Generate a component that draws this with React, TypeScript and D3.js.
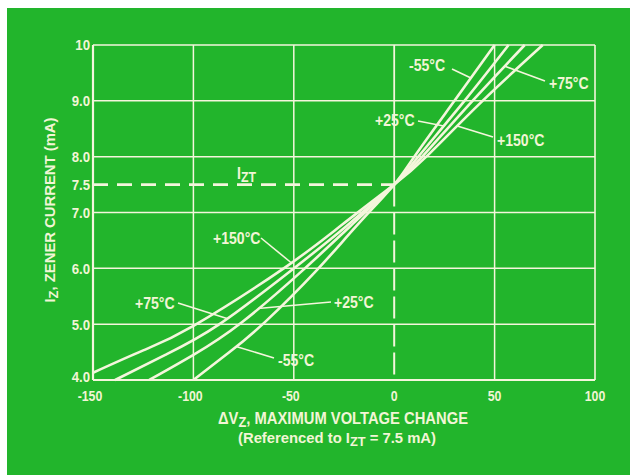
import React from "react";
import * as d3 from "d3";

// Data: ΔVz (x) vs Iz in mA (y)
const xTicks = [-150, -100, -50, 0, 50, 100];
const yTicks = [4.0, 5.0, 6.0, 7.0, 7.5, 8.0, 9.0, 10];
const yTickLabels = ["4.0", "5.0", "6.0", "7.0", "7.5", "8.0", "9.0", "10"];
const xGrid = [-100, -50, 50];
const yGrid = [5, 6, 7, 8, 9];

const seriesNames = ["-55°C", "+25°C", "+75°C", "+150°C"];
const curveM55: [number, number][] = [
  [-100, 4.0], [-82, 4.5], [-64, 5.05], [-39, 5.95], [-19, 6.75], [0, 7.5], [10, 8.0], [30, 9.0], [50, 10.0],
];
const curveP25: [number, number][] = [
  [-122, 4.0], [-100, 4.45], [-76, 5.03], [-46, 5.95], [-22, 6.75], [0, 7.5], [12, 8.0], [35, 9.0], [57, 10.0],
];
const curveP75: [number, number][] = [
  [-139, 4.0], [-114, 4.45], [-87, 5.0], [-51, 5.97], [-24, 6.75], [0, 7.5], [14, 8.0], [39, 9.0], [65, 10.0],
];
const curveP150: [number, number][] = [
  [-150, 4.13], [-125, 4.53], [-100, 4.97], [-55, 6.0], [-26, 6.78], [0, 7.5], [16, 8.0], [44, 9.0], [74, 10.0],
];
const curves = [curveM55, curveP25, curveP75, curveP150];

const GREEN = "#22b52c";
const LINE = "#f4f6dc";
const TEXT = "#f2f5d6";
const FONT = "'Liberation Sans',Arial,sans-serif";
const SX = 0.88; // horizontal condensing of the lettering

function xAtI(pts: [number, number][], I: number) {
  for (let i = 0; i < pts.length - 1; i++) {
    const [x0, y0] = pts[i];
    const [x1, y1] = pts[i + 1];
    if (I >= y0 && I <= y1) return x0 + ((I - y0) / (y1 - y0)) * (x1 - x0);
  }
  return pts[0][0];
}

function CText(props: {
  x: number;
  y: number;
  size: number;
  anchor?: "start" | "middle" | "end";
  dy?: string;
  width?: number;
  children: React.ReactNode;
}) {
  const { x, y, size, anchor = "start", dy, width, children } = props;
  const extra = width ? { textLength: width / SX, lengthAdjust: "spacingAndGlyphs" } : {};
  return (
    <g transform={`translate(${x},${y}) scale(${SX},1)`}>
      <text x={0} y={0} dy={dy} textAnchor={anchor} fontSize={size} fontWeight="bold" fill={TEXT} {...extra}>
        {children}
      </text>
    </g>
  );
}

export default function App() {
  const x = d3.scaleLinear().domain([-150, 100]).range([93, 595]);
  const y = d3.scaleLinear().domain([4, 10]).range([380, 45]);
  const line = d3
    .line<[number, number]>()
    .x((d) => x(d[0]))
    .y((d) => y(d[1]))
    .curve(d3.curveNatural);

  // annotations: label text position, leader start, target on curve (series idx, I)
  const notes = [
    { s: 0, tx: 409, ty: 71, lx: 452, ly: 69, I: 9.41 },
    { s: 2, tx: 549, ty: 89, lx: 545, ly: 81, I: 9.62 },
    { s: 1, tx: 375, ty: 126, lx: 418, ly: 121, I: 8.55 },
    { s: 3, tx: 497, ty: 146, lx: 493, ly: 137, I: 8.55 },
    { s: 3, tx: 213, ty: 244, lx: 261, ly: 238, I: 6.1 },
    { s: 1, tx: 334, ty: 308, lx: 331, ly: 302, I: 5.28 },
    { s: 2, tx: 135, ty: 309, lx: 178, ly: 303, I: 5.1 },
    { s: 0, tx: 278, ty: 366, lx: 274, ly: 358, I: 4.6 },
  ];

  return (
    <div style={{ position: "absolute", left: 0, top: 0 }}>
      <svg width={630} height={475} style={{ display: "block" }} fontFamily={FONT}>
        <rect x={0} y={0} width={630} height={475} fill="#ffffff" />
        <rect x={7} y={8} width={623} height={467} fill={GREEN} />

        {/* grid */}
        {xGrid.map((v) => (
          <line key={"xg" + v} x1={x(v)} x2={x(v)} y1={y(10)} y2={y(4)} stroke={LINE} strokeWidth={1.5} />
        ))}
        {yGrid.map((v) => (
          <line key={"yg" + v} x1={x(-150)} x2={x(100)} y1={y(v)} y2={y(v)} stroke={LINE} strokeWidth={1.5} />
        ))}
        {/* x = 0: solid above 7.5, dashed below */}
        <line x1={x(0)} x2={x(0)} y1={y(10)} y2={y(7.5)} stroke={LINE} strokeWidth={1.8} />
        <line x1={x(0)} x2={x(0)} y1={y(7.5)} y2={y(4)} stroke={LINE} strokeWidth={2} strokeDasharray="22,6" />
        {/* Izt dashed */}
        <line x1={x(-150)} x2={x(0)} y1={y(7.5)} y2={y(7.5)} stroke={LINE} strokeWidth={2.6} strokeDasharray="15,9" />

        {/* frame */}
        <line x1={x(-150)} x2={x(100)} y1={y(10)} y2={y(10)} stroke={LINE} strokeWidth={1.6} />
        <line x1={x(100)} x2={x(100)} y1={y(10)} y2={y(4)} stroke={LINE} strokeWidth={1.6} />
        <line x1={x(-150)} x2={x(-150)} y1={y(10)} y2={y(4)} stroke={LINE} strokeWidth={2.2} />
        <line x1={x(-150)} x2={x(100)} y1={y(4)} y2={y(4)} stroke={LINE} strokeWidth={2.2} />

        {/* curves */}
        {curves.map((c, i) => (
          <path key={"c" + i} d={line(c) || ""} fill="none" stroke={LINE} strokeWidth={2.6} />
        ))}

        {/* y tick labels */}
        {yTicks.map((v, i) => (
          <CText key={"yt" + v} x={90} y={y(v) - (v === 4 ? 3 : 0)} dy="0.36em" anchor="end" size={15}>
            {yTickLabels[i]}
          </CText>
        ))}
        {/* x tick labels */}
        {xTicks.map((v) => (
          <CText key={"xt" + v} x={x(v) - (v < 0 ? 3 : 0)} y={401} anchor="middle" size={14}>
            {v < 0 ? "-" + Math.abs(v) : String(v)}
          </CText>
        ))}

        {/* annotations */}
        {notes.map((n, i) => {
          const c = curves[n.s];
          const px = x(xAtI(c, n.I));
          const py = y(n.I);
          return (
            <g key={"n" + i}>
              <line x1={n.lx} y1={n.ly} x2={px} y2={py} stroke={LINE} strokeWidth={1.6} />
              <CText x={n.tx} y={n.ty} size={16}>
                {seriesNames[n.s]}
              </CText>
            </g>
          );
        })}

        {/* Izt label */}
        <CText x={237} y={179} size={16}>
          I<tspan dy={3} fontSize={14}>ZT</tspan>
        </CText>

        {/* axis titles */}
        <g transform="translate(55,210) rotate(-90)">
          <CText x={0} y={0} anchor="middle" size={15} width={185}>
            I<tspan dy={3} fontSize={13}>Z</tspan>
            <tspan dy={-3}>, ZENER CURRENT (mA)</tspan>
          </CText>
        </g>
        <CText x={343} y={424} anchor="middle" size={16} width={250}>
          ΔV<tspan dy={3} fontSize={14}>Z</tspan>
          <tspan dy={-3}>, MAXIMUM VOLTAGE CHANGE</tspan>
        </CText>
        <CText x={337} y={443} anchor="middle" size={15} width={198}>
          (Referenced to  I<tspan dy={3} fontSize={13}>ZT</tspan>
          <tspan dy={-3}> = 7.5 mA)</tspan>
        </CText>
      </svg>
    </div>
  );
}
